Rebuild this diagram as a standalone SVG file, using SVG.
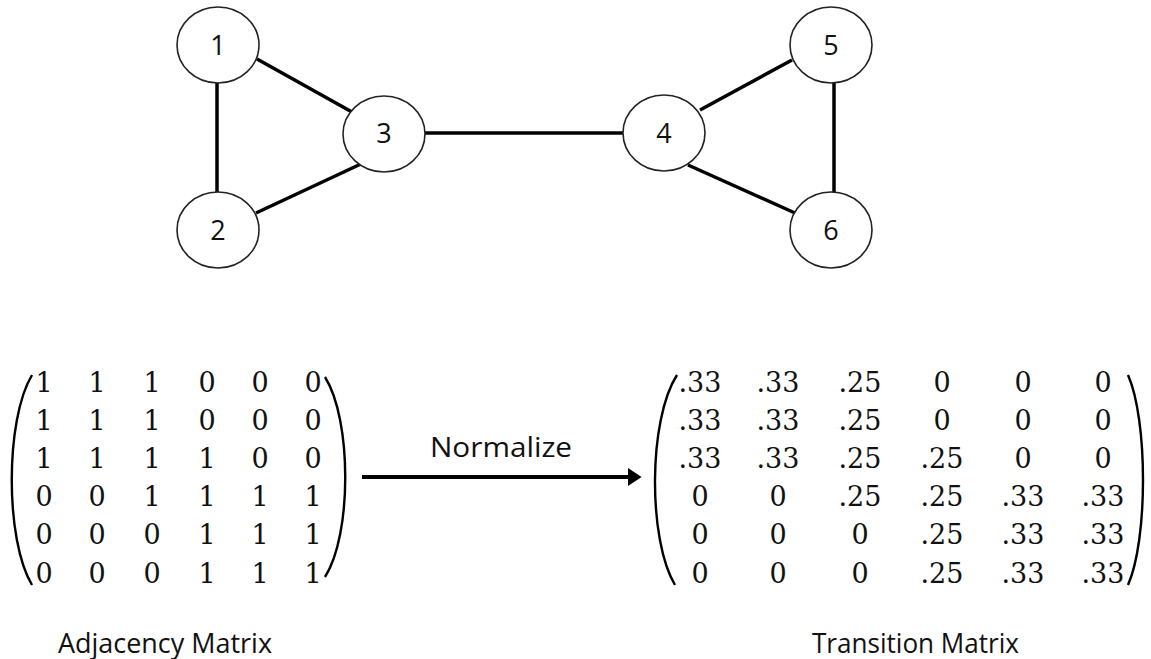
<svg xmlns="http://www.w3.org/2000/svg" width="1151" height="659" viewBox="0 0 1151 659">
<style>
.node ellipse{fill:#fff;stroke:#222;stroke-width:1.6}
.node text{font-family:"Open Sans","Noto Sans",sans-serif;font-size:27px;fill:#111;text-anchor:middle}
.edge{stroke:#000;stroke-width:3.5;fill:none}
.m text{font-family:"DejaVu Serif","Liberation Serif",serif;font-size:27px;fill:#111;text-anchor:middle}
.paren{fill:none;stroke:#000;stroke-width:2.4}
.lbl{font-family:"Open Sans","Noto Sans",sans-serif;font-size:27px;fill:#111}
</style>
<defs>
<marker id="ah" markerWidth="4" markerHeight="4.5" refX="0.5" refY="2.25" orient="auto" markerUnits="strokeWidth">
<path d="M0,0 L3.4,2.25 L0,4.5 Z" fill="#000"/>
</marker>
</defs>
<g id="connectors">
<line class="edge" x1="217" y1="83" x2="217" y2="192"/>
<line class="edge" x1="257" y1="59" x2="352" y2="112"/>
<line class="edge" x1="256" y1="213" x2="363" y2="163"/>
<line class="edge" x1="425" y1="133" x2="623" y2="133"/>
<line class="edge" x1="700" y1="110" x2="792" y2="60"/>
<line class="edge" x1="688" y1="165" x2="795" y2="213"/>
<line class="edge" x1="834" y1="83" x2="834" y2="192"/>
<line x1="362" y1="477" x2="630" y2="477" stroke="#000" stroke-width="4" marker-end="url(#ah)"/>
</g>
<g id="n1" class="node"><ellipse cx="218" cy="45" rx="41" ry="38"/><text x="218" y="55">1</text></g>
<g id="n2" class="node"><ellipse cx="218" cy="230" rx="41" ry="38"/><text x="218" y="240">2</text></g>
<g id="n3" class="node"><ellipse cx="384" cy="134" rx="41" ry="38"/><text x="384" y="143">3</text></g>
<g id="n4" class="node"><ellipse cx="664" cy="133" rx="41" ry="38"/><text x="664" y="143">4</text></g>
<g id="n5" class="node"><ellipse cx="831" cy="45" rx="41" ry="38"/><text x="831" y="55">5</text></g>
<g id="n6" class="node"><ellipse cx="831" cy="230" rx="41" ry="38"/><text x="831" y="240">6</text></g>
<g id="normalize"><text class="lbl" x="430" y="457" textLength="142" lengthAdjust="spacingAndGlyphs">Normalize</text></g>
<g id="adjacency" class="m">
<path class="paren" d="M32,375 C5,420 5,540 32,585"/>
<path class="paren" d="M325,377 C352,420 352,535 325,577"/>
<text y="392"><tspan x="44">1</tspan><tspan x="97">1</tspan><tspan x="152">1</tspan><tspan x="207">0</tspan><tspan x="260">0</tspan><tspan x="313">0</tspan></text>
<text y="430"><tspan x="44">1</tspan><tspan x="97">1</tspan><tspan x="152">1</tspan><tspan x="207">0</tspan><tspan x="260">0</tspan><tspan x="313">0</tspan></text>
<text y="468"><tspan x="44">1</tspan><tspan x="97">1</tspan><tspan x="152">1</tspan><tspan x="207">1</tspan><tspan x="260">0</tspan><tspan x="313">0</tspan></text>
<text y="506"><tspan x="44">0</tspan><tspan x="97">0</tspan><tspan x="152">1</tspan><tspan x="207">1</tspan><tspan x="260">1</tspan><tspan x="313">1</tspan></text>
<text y="544"><tspan x="44">0</tspan><tspan x="97">0</tspan><tspan x="152">0</tspan><tspan x="207">1</tspan><tspan x="260">1</tspan><tspan x="313">1</tspan></text>
<text y="583"><tspan x="44">0</tspan><tspan x="97">0</tspan><tspan x="152">0</tspan><tspan x="207">1</tspan><tspan x="260">1</tspan><tspan x="313">1</tspan></text>
</g>
<g id="transition" class="m">
<path class="paren" d="M677,375 C648,420 648,540 675,585"/>
<path class="paren" d="M1128,375 C1148,420 1148,540 1128,585"/>
<text y="392"><tspan x="700">.33</tspan><tspan x="778">.33</tspan><tspan x="860">.25</tspan><tspan x="942">0</tspan><tspan x="1023">0</tspan><tspan x="1103">0</tspan></text>
<text y="430"><tspan x="700">.33</tspan><tspan x="778">.33</tspan><tspan x="860">.25</tspan><tspan x="942">0</tspan><tspan x="1023">0</tspan><tspan x="1103">0</tspan></text>
<text y="468"><tspan x="700">.33</tspan><tspan x="778">.33</tspan><tspan x="860">.25</tspan><tspan x="942">.25</tspan><tspan x="1023">0</tspan><tspan x="1103">0</tspan></text>
<text y="506"><tspan x="700">0</tspan><tspan x="778">0</tspan><tspan x="860">.25</tspan><tspan x="942">.25</tspan><tspan x="1023">.33</tspan><tspan x="1103">.33</tspan></text>
<text y="544"><tspan x="700">0</tspan><tspan x="778">0</tspan><tspan x="860">0</tspan><tspan x="942">.25</tspan><tspan x="1023">.33</tspan><tspan x="1103">.33</tspan></text>
<text y="583"><tspan x="700">0</tspan><tspan x="778">0</tspan><tspan x="860">0</tspan><tspan x="942">.25</tspan><tspan x="1023">.33</tspan><tspan x="1103">.33</tspan></text>
</g>
<g id="labels">
<text class="lbl" x="58" y="653" textLength="214" lengthAdjust="spacingAndGlyphs">Adjacency Matrix</text>
<text class="lbl" x="812" y="653" textLength="207" lengthAdjust="spacingAndGlyphs">Transition Matrix</text>
</g>
</svg>
